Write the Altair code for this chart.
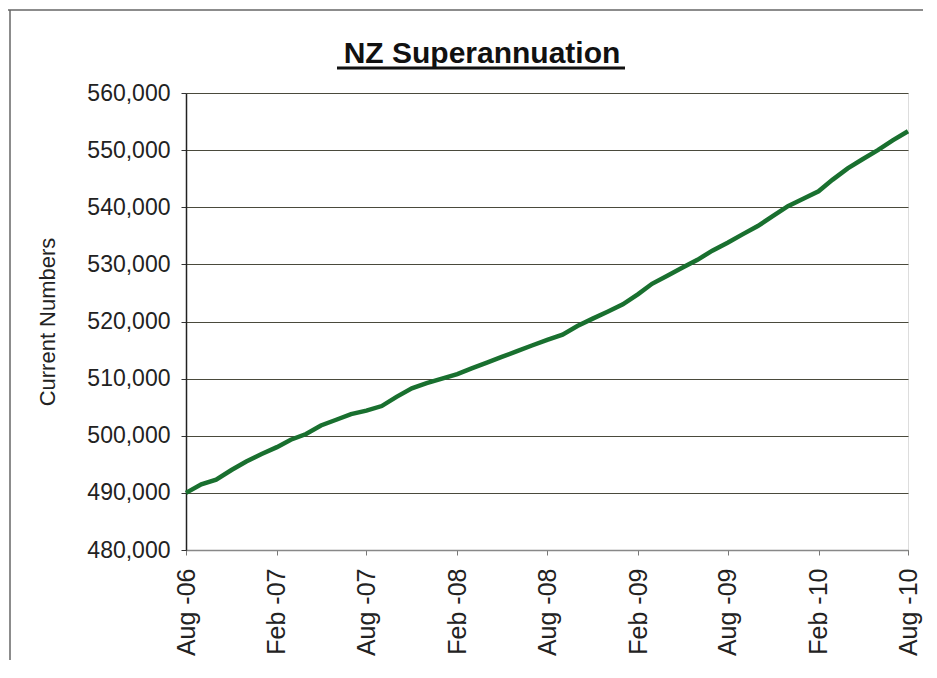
import altair as alt
import pandas as pd

# Monthly data, Aug 2006 .. Aug 2010
months = [
    "2006-08", "2006-09", "2006-10", "2006-11", "2006-12",
    "2007-01", "2007-02", "2007-03", "2007-04", "2007-05", "2007-06",
    "2007-07", "2007-08", "2007-09", "2007-10", "2007-11", "2007-12",
    "2008-01", "2008-02", "2008-03", "2008-04", "2008-05", "2008-06",
    "2008-07", "2008-08", "2008-09", "2008-10", "2008-11", "2008-12",
    "2009-01", "2009-02", "2009-03", "2009-04", "2009-05", "2009-06",
    "2009-07", "2009-08", "2009-09", "2009-10", "2009-11", "2009-12",
    "2010-01", "2010-02", "2010-03", "2010-04", "2010-05", "2010-06",
    "2010-07", "2010-08",
]
numbers = [
    490000, 491500, 492300, 494000, 495500,
    496800, 498000, 499300, 500300, 501800, 502800,
    503800, 504400, 505200, 506800, 508300, 509200,
    510000, 510800, 511800, 512800, 513800, 514800,
    515800, 516800, 517700, 519200, 520500, 521700,
    523000, 524800, 526600, 528000, 529400, 530800,
    532400, 533800, 535300, 536700, 538500, 540200,
    541500, 542800, 544800, 546800, 548400, 550000,
    551700, 553300,
]
tick_dates = [(2006, 8), (2007, 2), (2007, 8), (2008, 2), (2008, 8),
              (2009, 2), (2009, 8), (2010, 2), (2010, 8)]
x_labels = ["Aug -06", "Feb -07", "Aug -07", "Feb -08", "Aug -08",
            "Feb -09", "Aug -09", "Feb -10", "Aug -10"]
y_ticks = [480000, 490000, 500000, 510000, 520000, 530000, 540000, 550000, 560000]
y_labels = ["480,000", "490,000", "500,000", "510,000", "520,000",
            "530,000", "540,000", "550,000", "560,000"]
title_text = "NZ Superannuation"
y_title = "Current Numbers"

df = pd.DataFrame({"month": [m + "-01" for m in months], "value": numbers})

FONT = "Liberation Sans"
W, H = 722, 457

x_arr = "[" + ",".join("'%s'" % s for s in x_labels) + "]"
x_expr = (x_arr + "[floor(((utcyear(datum.value) - 2006) * 12 + utcmonth(datum.value) - 7) / 6 + 0.5)]")
y_expr = ""
for v, s in zip(y_ticks, y_labels):
    y_expr += "datum.value == %d ? '%s' : " % (v, s)
y_expr += "''"

line = alt.Chart(df).mark_line(color="#19702f", strokeWidth=4.5).encode(
    x=alt.X(
        "month:T",
        scale=alt.Scale(type="utc", domain=[
            alt.DateTime(year=2006, month=8, date=1, utc=True),
            alt.DateTime(year=2010, month=8, date=1, utc=True)], nice=False),
        axis=alt.Axis(
            title=None,
            values=[alt.DateTime(year=y, month=m, date=1, utc=True) for y, m in tick_dates],
            labelExpr=x_expr,
            labelAngle=270, labelAlign="right", labelBaseline="middle",
            labelPadding=13, tickSize=5, tickColor="#777", domainColor="#888",
            domainWidth=1.5, labelFontSize=25, labelFont=FONT, labelColor="#222",
            grid=False, labelOverlap=False,
        ),
    ),
    y=alt.Y(
        "value:Q",
        scale=alt.Scale(domain=[480000, 560000], nice=False, zero=False),
        axis=alt.Axis(
            title=y_title, values=y_ticks, labelExpr=y_expr,
            labelFontSize=23, labelFont=FONT, labelColor="#222", labelPadding=11,
            tickSize=5, tickColor="#333", domainColor="#222", domainWidth=1.5,
            grid=True, gridColor="#4a4a3c", gridWidth=1.2,
            titleFont=FONT, titleFontSize=22, titleFontWeight="normal", titleColor="#222",
            titleX=-139, titleY=H / 2, titleAngle=270, titleAlign="center",
            titleBaseline="middle",
        ),
    ),
)

one = pd.DataFrame({"t": [title_text]})

title = alt.Chart(one).mark_text(
    font=FONT, fontSize=30, fontWeight="bold", color="#111",
    align="center", baseline="alphabetic",
).encode(text="t:N", x=alt.value(296), y=alt.value(-30))

underline = alt.Chart(one).mark_rule(color="#111", strokeWidth=3).encode(
    x=alt.value(151), x2=alt.value(439), y=alt.value(-25)
)

frame_top = alt.Chart(one).mark_rule(color="#666", strokeWidth=1.5).encode(
    x=alt.value(-186), x2=alt.value(740), y=alt.value(-83)
)
frame_left = alt.Chart(one).mark_rule(color="#666", strokeWidth=1.5).encode(
    x=alt.value(-176), y=alt.value(-83), y2=alt.value(575)
)

chart = alt.layer(frame_top, frame_left, line, title, underline).properties(
    width=W, height=H,
    autosize=alt.AutoSizeParams(type="none"),
    padding={"left": 178, "top": 85, "right": 15, "bottom": 110},
).configure_view(stroke=None).configure(background="white")

chart.save("out.html", embed_options={"renderer": "svg", "actions": False})
